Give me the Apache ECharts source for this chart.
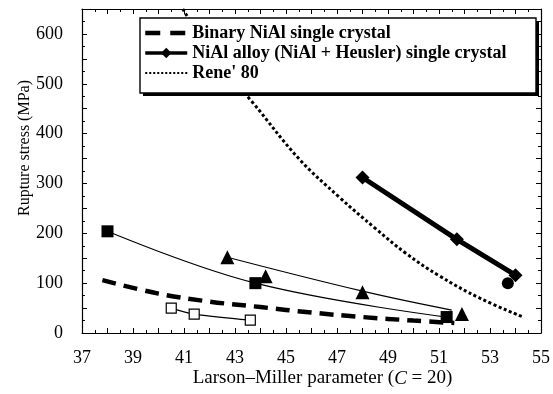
<!DOCTYPE html>
<html>
<head>
<meta charset="utf-8">
<script src="https://cdn.jsdelivr.net/npm/echarts@6/dist/echarts.min.js"></script>
<style>
  html, body { margin: 0; padding: 0; background: #fff; }
  #chart { width: 553px; height: 394px; }
</style>
</head>
<body>
<div id="chart"></div>
<script>
// Larson–Miller parameter (C = 20) vs rupture stress (MPa)
const binaryCurve   = [[37.8, 106], [40, 79], [42, 63], [44, 52], [46, 41], [48, 32], [50, 25], [51.6, 20]];
const binaryPoints  = [[40.5, 50], [41.4, 38], [43.6, 26]];
const squarePoints  = [[38.0, 204], [43.8, 100], [51.3, 32]];
const triangleFit   = [[42.7, 152], [48.0, 84], [51.5, 46]];
const trianglePts   = [[42.7, 152], [44.2, 114], [48.0, 82], [51.9, 38]];
const alloyPoints   = [[48.0, 312], [51.7, 188], [54.0, 116]];
const circlePoint   = [[53.7, 100]];
const reneCurve     = [[40.95, 650], [42.3, 545], [43.7, 462], [45.5, 350], [47.1, 272], [48.5, 210], [49.7, 160], [51.0, 115], [52.6, 70], [54.3, 32]];

const legendNames = ['Binary NiAl single crystal', 'NiAl alloy (NiAl + Heusler) single crystal', "Rene' 80"];

const SERIF = '"Liberation Serif", "Times New Roman", serif';
const BLACK = '#000';

const chart = echarts.init(document.getElementById('chart'), null, { renderer: 'canvas' });

function frameAxis(extra) {
  return Object.assign({
    type: 'value',
    axisLine: { show: true, onZero: false, lineStyle: { color: BLACK, width: 1.2 } },
    axisTick: { show: true, inside: true, length: 5, lineStyle: { color: BLACK, width: 1 } },
    minorTick: { show: true, splitNumber: 2, length: 3, lineStyle: { color: BLACK, width: 1 } },
    splitLine: { show: false },
    minorSplitLine: { show: false }
  }, extra);
}

chart.setOption({
  animation: false,
  backgroundColor: '#fff',
  grid: { left: 82, right: 10, top: 9, bottom: 61 },
  xAxis: [
    frameAxis({
      position: 'bottom', min: 37, max: 55, interval: 1,
      axisLabel: {
        margin: 16, color: BLACK, fontFamily: SERIF, fontSize: 18,
        formatter: v => (Math.round(v) % 2 === 1 ? String(v) : '')
      },
      name: 'Larson\u2013Miller parameter ({i|C} = 20)',
      nameLocation: 'middle', nameGap: 36, nameMoveOverlap: false,
      nameTextStyle: {
        color: BLACK, fontFamily: SERIF, fontSize: 19, padding: [0, 0, 0, 22],
        rich: { i: { fontStyle: 'italic', fontFamily: SERIF, fontSize: 19, color: BLACK } }
      }
    }),
    frameAxis({
      position: 'top', min: 37, max: 55, interval: 1,
      axisLabel: { show: false }
    })
  ],
  yAxis: [
    frameAxis({
      position: 'left', min: 0, max: 650, interval: 50,
      axisLabel: {
        margin: 19, color: BLACK, fontFamily: SERIF, fontSize: 18,
        formatter: v => (v % 100 === 0 && v <= 600 ? String(v) : '')
      },
      name: 'Rupture stress (MPa)',
      nameLocation: 'middle', nameGap: 49, nameMoveOverlap: false,
      nameTextStyle: { color: BLACK, fontFamily: SERIF, fontSize: 16, padding: [0, 0, 0, 46] }
    }),
    frameAxis({
      position: 'right', min: 0, max: 650, interval: 50,
      axisLabel: { show: false }
    })
  ],
  legend: {
    data: [
      { name: legendNames[0], itemStyle: { opacity: 0 }, lineStyle: { width: 4.5, type: [15, 10] } },
      { name: legendNames[1], lineStyle: { width: 3.5 } },
      { name: legendNames[2], itemStyle: { opacity: 0 }, lineStyle: { width: 2, type: [2, 2] } }
    ],
    orient: 'vertical',
    icon: 'inherit',
    left: 143, top: 24,
    itemWidth: 42, itemHeight: 13, itemGap: 2,
    padding: 0,
    z: 20,
    selectedMode: false,
    textStyle: { color: BLACK, fontFamily: SERIF, fontSize: 18, fontWeight: 'bold', lineHeight: 18 }
  },
  graphic: [
    {
      type: 'rect', z: 10,
      shape: { x: 143, y: 21, width: 396, height: 75 },
      style: { fill: BLACK }
    },
    {
      type: 'rect', z: 11,
      shape: { x: 140, y: 18, width: 396, height: 75 },
      style: { fill: '#fff', stroke: BLACK, lineWidth: 1.4 }
    }
  ],
  series: [
    {
      name: legendNames[0], type: 'line', data: binaryCurve, smooth: 0.4,
      symbol: 'none', z: 3,
      lineStyle: { color: BLACK, width: 4.5, type: [14, 8] },
      itemStyle: { color: BLACK }
    },
    {
      name: 'binaryPoints', type: 'line', data: binaryPoints, smooth: 0.3,
      symbol: 'rect', symbolSize: 10, z: 4,
      lineStyle: { color: BLACK, width: 1.2 },
      itemStyle: { color: '#fff', borderColor: BLACK, borderWidth: 1.2 }
    },
    {
      name: 'squarePoints', type: 'line', data: squarePoints, smooth: 0.4,
      symbol: 'rect', symbolSize: 12, z: 4,
      lineStyle: { color: BLACK, width: 1.2 },
      itemStyle: { color: BLACK }
    },
    {
      name: 'triangleFit', type: 'line', data: triangleFit, smooth: 0.4,
      symbol: 'none', z: 3,
      lineStyle: { color: BLACK, width: 1.2 },
      itemStyle: { color: BLACK }
    },
    {
      name: 'trianglePts', type: 'scatter', data: trianglePts,
      symbol: 'triangle', symbolSize: 14, z: 4,
      itemStyle: { color: BLACK, opacity: 1 }
    },
    {
      name: legendNames[1], type: 'line', data: alloyPoints,
      symbol: 'diamond', symbolSize: 14, z: 4,
      lineStyle: { color: BLACK, width: 5 },
      itemStyle: { color: BLACK }
    },
    {
      name: 'circlePoint', type: 'scatter', data: circlePoint,
      symbol: 'circle', symbolSize: 12, z: 4,
      itemStyle: { color: BLACK, opacity: 1 }
    },
    {
      name: legendNames[2], type: 'line', data: reneCurve, smooth: 0.4,
      symbol: 'none', z: 3,
      lineStyle: { color: BLACK, width: 3, type: [3, 2.5] },
      itemStyle: { color: BLACK }
    }
  ]
});
</script>
</body>
</html>
